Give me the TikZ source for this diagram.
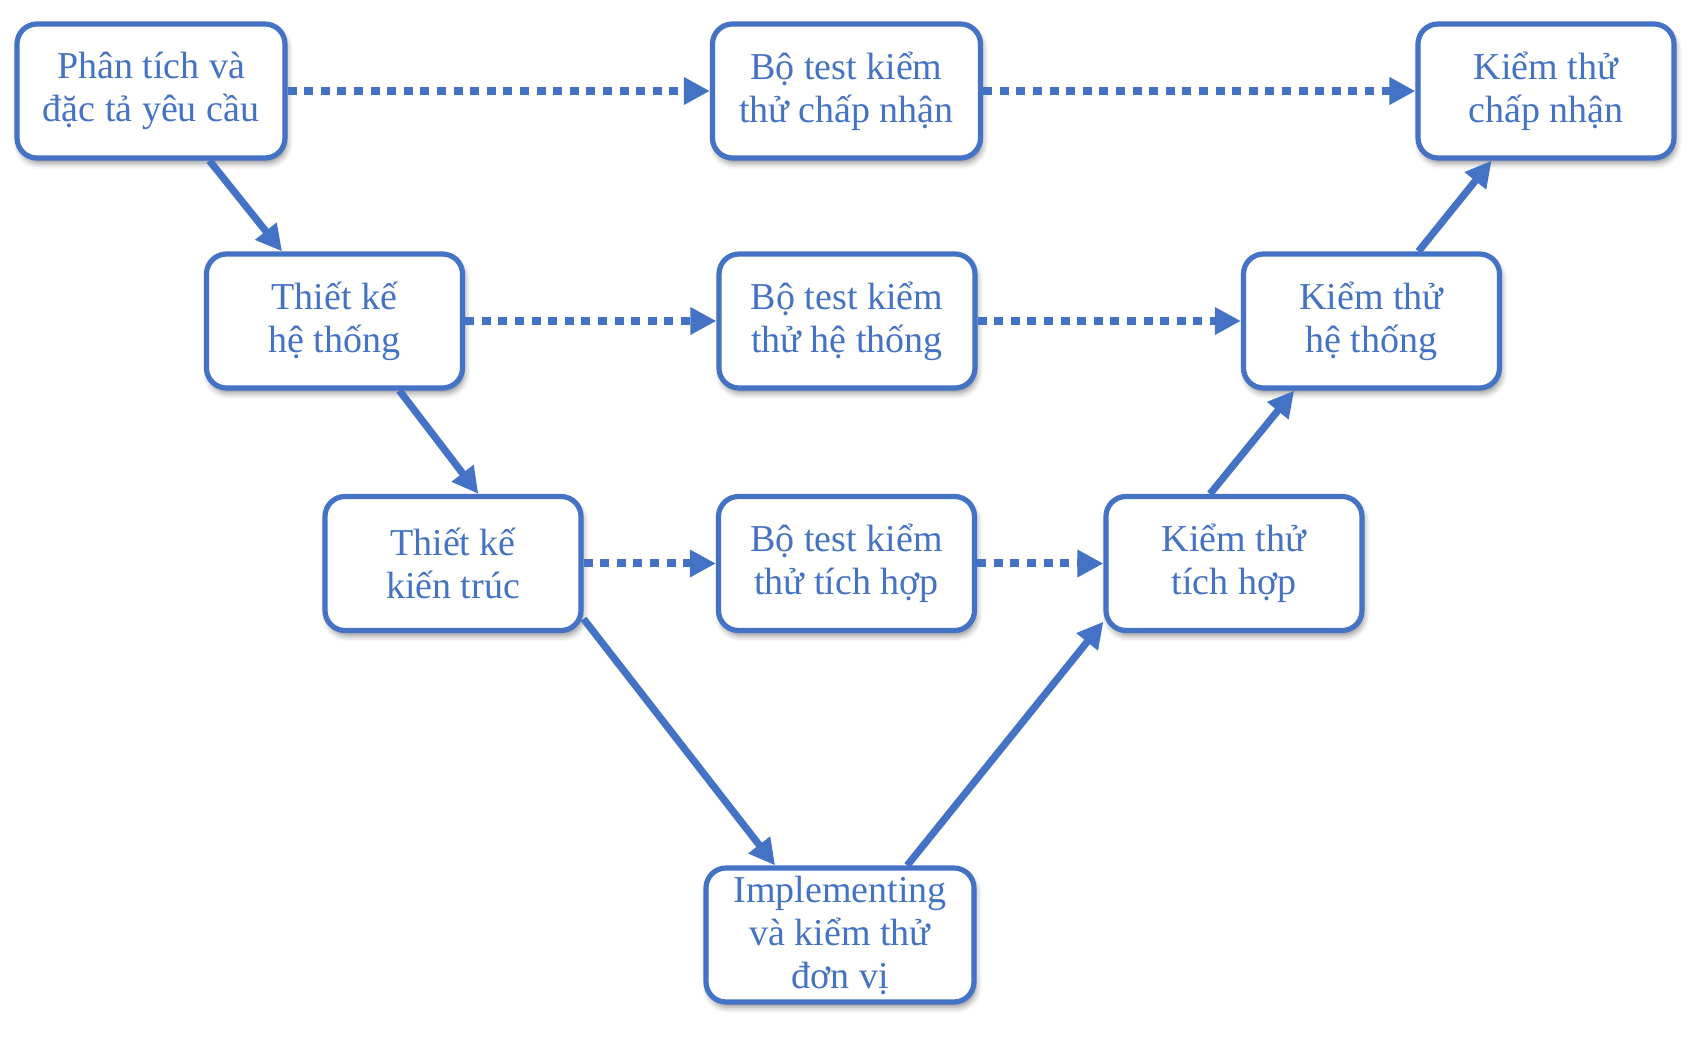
\documentclass[tikz,border=0pt]{standalone}
\usepackage{fontspec}
\setmainfont{Liberation Serif}
\usetikzlibrary{arrows.meta,shadows.blur}
\definecolor{vblue}{HTML}{4472C4}
\begin{document}
\begin{tikzpicture}[x=0.5pt,y=-0.5pt,>={Triangle[length=13pt,width=13pt]},
	box/.style={draw=vblue,line width=2.6pt,rounded corners=10pt,fill=white,
		minimum width=128pt,minimum height=67pt,inner sep=2pt,align=center,
		text=vblue,font=\fontsize{19}{21.5}\selectfont,
		blur shadow={shadow xshift=1pt,shadow yshift=-2.5pt,shadow blur radius=3pt,shadow opacity=45}},
	wide/.style={minimum width=134pt},
	flow/.style={draw=vblue,line width=3.6pt,->},
	link/.style={draw=vblue,line width=4pt,dash pattern=on 4.5pt off 3.8pt,->}]
		\useasboundingbox (0,0) rectangle (1699,1037);
		\node[box,wide] (req) at (151,91) {Phân tích và\\đặc tả yêu cầu};
		\node[box,wide] (acctest) at (846.5,91) {Bộ test kiểm\\thử chấp nhận};
		\node[box] (acc) at (1546,91) {Kiểm thử\\chấp nhận};
		\node[box] (sysdes) at (334.5,321) {Thiết kế\\hệ thống};
		\node[box] (systest) at (847,321) {Bộ test kiểm\\thử hệ thống};
		\node[box] (sys) at (1371.5,321) {Kiểm thử\\hệ thống};
		\node[box] (arch) at (453,563.5) {Thiết kế\\kiến trúc};
		\node[box] (inttest) at (846.5,563.5) {Bộ test kiểm\\thử tích hợp};
		\node[box] (integ) at (1234,563.5) {Kiểm thử\\tích hợp};
		\node[box,wide] (impl) at (840,935) {Implementing\\và kiểm thử\\đơn vị};
		\draw[flow] (req.-50) -- (sysdes.127);
		\draw[flow] (sysdes.-47) -- (arch.70);
		\draw[flow] (arch.-23) -- (impl.133);
		\draw[flow] (impl.46) -- (integ.-156);
		\draw[flow] (integ.109) -- (sys.-138);
		\draw[flow] (sys.56) -- (acc.-128);
		\draw[link] (req.east) -- (acctest.west);
		\draw[link] (acctest.east) -- (acc.west);
		\draw[link] (sysdes.east) -- (systest.west);
		\draw[link] (systest.east) -- (sys.west);
		\draw[link] (arch.east) -- (inttest.west);
		\draw[link] (inttest.east) -- (integ.west);
	\end{tikzpicture}
\end{document}
